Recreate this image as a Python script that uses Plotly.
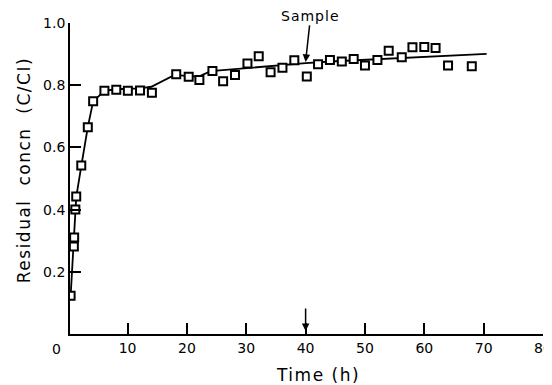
import plotly.graph_objects as go

# Measured data points (time in h, residual concentration C/CI)
time_h = [0.4, 0.95, 1.0, 1.2, 1.35, 2.2, 3.3, 4.2, 6.1, 8.1, 10.05, 12.1, 14.1,
          18.2, 20.3, 22.1, 24.3, 26.1, 28.1, 30.2, 32.1, 34.1, 36.1, 38.1, 40.2,
          42.1, 44.1, 46.1, 48.1, 50.0, 52.1, 54.0, 56.2, 58.0, 60.0, 61.9, 64.0, 68.0]
conc = [0.123, 0.281, 0.31, 0.40, 0.442, 0.542, 0.665, 0.748, 0.782, 0.785, 0.782, 0.783, 0.776,
        0.835, 0.827, 0.817, 0.846, 0.813, 0.833, 0.870, 0.893, 0.842, 0.856, 0.880, 0.828,
        0.867, 0.881, 0.876, 0.884, 0.863, 0.881, 0.911, 0.890, 0.922, 0.923, 0.920, 0.863, 0.861]

# Fitted curve
fit_time = [0.4, 1.0, 1.35, 2.2, 3.3, 4.2, 6.1, 8.0, 10.0, 12.0, 14.0, 18.0, 20.0, 22.0,
            24.0, 30.0, 35.0, 40.0, 45.0, 50.0, 56.0, 63.0, 70.5]
fit_conc = [0.12, 0.30, 0.44, 0.54, 0.665, 0.748, 0.782, 0.787, 0.788, 0.79, 0.795, 0.834,
            0.829, 0.828, 0.845, 0.855, 0.864, 0.871, 0.877, 0.882, 0.888, 0.894, 0.901]

x_ticks = [10, 20, 30, 40, 50, 60, 70, 80]
y_ticks = [0.2, 0.4, 0.6, 0.8, 1.0]
sample_time = 40

FONT = "DejaVu Sans"

fig = go.Figure()
fig.add_trace(go.Scatter(x=fit_time, y=fit_conc, mode="lines",
                         line=dict(color="black", width=1.8), hoverinfo="skip"))
fig.add_trace(go.Scatter(x=time_h, y=conc, mode="markers",
                         marker=dict(symbol="square", size=8, color="white",
                                     line=dict(color="black", width=2))))

fig.update_layout(
    template="none",
    width=544, height=377,
    margin=dict(l=62, r=9, t=15, b=51, autoexpand=False),
    paper_bgcolor="white", plot_bgcolor="white",
    showlegend=False,
    font=dict(family=FONT, size=14, color="black"),
    xaxis=dict(range=[0.3, 80], tickvals=x_ticks, ticks="inside", ticklen=11,
               tickwidth=1.5, tickcolor="black", showline=True, linecolor="black",
               linewidth=1.8, showgrid=False, zeroline=False, automargin=False,
               tickfont=dict(family=FONT, size=14)),
    yaxis=dict(range=[0, 1.0], tickvals=y_ticks, tickformat=".1f", ticks="inside",
               ticklen=11, tickwidth=1.5, tickcolor="black", showline=True,
               linecolor="black", linewidth=1.8, showgrid=False, zeroline=False,
               automargin=False, tickfont=dict(family=FONT, size=14)),
)

annotations = [
    dict(text="0", xref="paper", yref="paper", x=-0.028, y=-0.048,
         xanchor="center", yanchor="middle", showarrow=False, font=dict(size=14)),
    dict(text='<span style="letter-spacing:1.5px">Time (h)</span>', xref="paper", yref="paper",
         x=0.524, y=-0.132, xanchor="center", yanchor="middle",
         showarrow=False, font=dict(size=17)),
    dict(text='<span style="letter-spacing:1.5px">Residual  concn  (C/CI)</span>',
         xref="paper", yref="paper", x=-0.097, y=0.527, textangle=-90,
         xanchor="center", yanchor="middle", showarrow=False, font=dict(size=17)),
    dict(text='<span style="letter-spacing:1px">Sample</span>', x=sample_time, y=0.875,
         xref="x", yref="y",
         showarrow=True, ax=5, ay=-46, arrowhead=2, arrowsize=1, arrowwidth=1.5,
         arrowcolor="black", font=dict(size=14)),
    dict(text="", x=sample_time, y=0.01, xref="x", yref="y",
         showarrow=True, ax=0, ay=-24, arrowhead=2, arrowsize=1, arrowwidth=1.5,
         arrowcolor="black"),
]
fig.update_layout(annotations=annotations)

fig.write_html("out.html")
